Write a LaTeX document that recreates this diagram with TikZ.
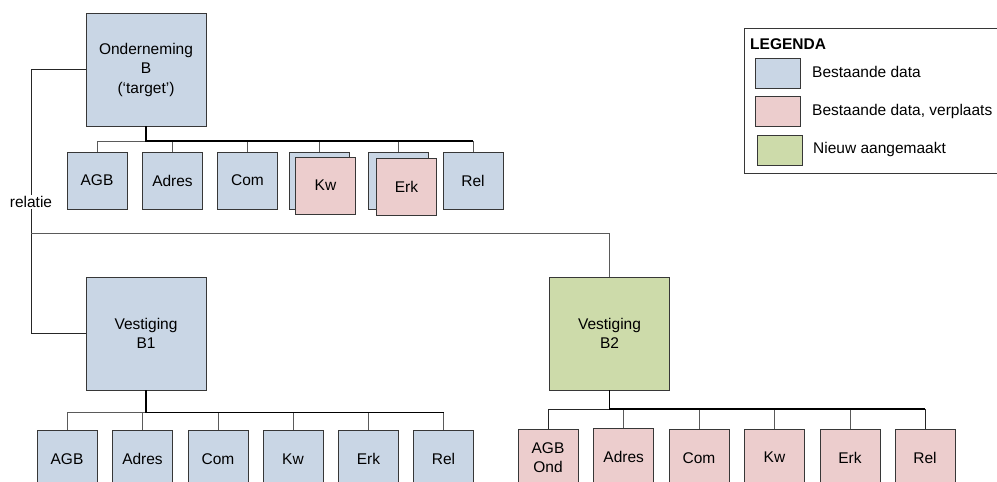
\documentclass[tikz,border=0pt]{standalone}
\usepackage{fontspec}
\setmainfont{Liberation Sans}
\definecolor{blueF}{RGB}{201,214,229}
\definecolor{pinkF}{RGB}{236,205,205}
\definecolor{greenF}{RGB}{205,219,170}
\definecolor{edge}{RGB}{55,55,55}
\definecolor{thinc}{RGB}{90,90,90}
\tikzset{
  base/.style={draw=edge, line width=0.9pt, inner sep=0pt, align=center,
    font=\fontsize{15.5}{19.5}\selectfont},
  bigbox/.style={base, minimum width=120pt, minimum height=113pt},
  smallbox/.style={base, minimum width=60pt, minimum height=57pt},
  blueb/.style={fill=blueF},
  pinkb/.style={fill=pinkF},
  greenb/.style={fill=greenF},
  swatch/.style={draw=edge, line width=0.9pt, minimum width=45pt, minimum height=30pt, inner sep=0pt},
  thinline/.style={draw=thinc, line width=0.8pt},
  thickline/.style={draw=black, line width=1.6pt},
  medline/.style={draw=black, line width=1.2pt},
  relline/.style={draw=black!85, line width=0.9pt},
  lbl/.style={font=\fontsize{15.5}{19.5}\selectfont, inner sep=1pt}
}
\begin{document}
\begin{tikzpicture}[x=1pt,y=-1pt]
\useasboundingbox (0,0) rectangle (997,482);
\fill[white] (0,0) rectangle (997,482);
\begin{scope}
\clip (0,0) rectangle (997,482);
% helper coordinates
\coordinate (rc) at (31,0);
\coordinate (hl) at (0,233);
\coordinate (busT) at (0,141);
\coordinate (bus1) at (0,412.5);
\coordinate (bus2) at (0,409);

% main nodes
\node[bigbox, blueb] (OB) at (146,69.5) {Onderneming\\B\\(‘target’)};
\node[bigbox, blueb] (B1) at (146,333.5) {Vestiging\\B1};
\node[bigbox, greenb] (B2) at (609.5,333.5) {Vestiging\\B2};

% top children
\node[smallbox, blueb] (tAGB) at (97,180.5) {AGB};
\node[smallbox, blueb] (tAdres) at (172.5,180.5) {Adres};
\node[smallbox, blueb] (tCom) at (247.5,180.5) {Com};
\node[smallbox, blueb] (tKwB) at (319.5,180.5) {};
\node[smallbox, pinkb] (tKw) at (325.5,185.5) {Kw};
\node[smallbox, blueb] (tErkB) at (398.5,180.5) {};
\node[smallbox, pinkb] (tErk) at (406.5,187) {Erk};
\node[smallbox, blueb] (tRel) at (473,180.5) {Rel};

% B1 children
\node[smallbox, blueb, anchor=north] (aAGB) at (67,430) {AGB};
\node[smallbox, blueb, anchor=north] (aAdres) at (142.5,430) {Adres};
\node[smallbox, blueb, anchor=north] (aCom) at (218,430) {Com};
\node[smallbox, blueb, anchor=north] (aKw) at (293,430) {Kw};
\node[smallbox, blueb, anchor=north] (aErk) at (368.5,430) {Erk};
\node[smallbox, blueb, anchor=north] (aRel) at (443.5,430) {Rel};

% B2 children
\node[smallbox, pinkb, anchor=north] (bAGB) at (548,428.5) {AGB\\Ond};
\node[smallbox, pinkb, anchor=north] (bAdres) at (623.7,428) {Adres};
\node[smallbox, pinkb, anchor=north] (bCom) at (699,429) {Com};
\node[smallbox, pinkb, anchor=north] (bKw) at (774.5,428.5) {Kw};
\node[smallbox, pinkb, anchor=north] (bErk) at (850,429) {Erk};
\node[smallbox, pinkb, anchor=north] (bRel) at (925,429) {Rel};

% top bus
\draw[thinline] (tAGB.north) |- (tRel.north |- busT) -- (tRel.north);
\foreach \n in {tAdres,tCom,tKwB,tErkB} \draw[thinline] (\n.north) -- (\n.north |- busT);
\draw[thickline] (OB.south) |- (tRel.north |- busT);

% B1 bus
\draw[thinline] (aAGB.north) |- (aRel.north |- bus1) -- (aRel.north);
\foreach \n in {aAdres,aCom,aKw,aErk} \draw[thinline] (\n.north) -- (\n.north |- bus1);
\draw[thickline] (B1.south) |- (aRel.north |- bus1);

% B2 bus
\draw[relline] (bAGB.north) |- (bRel.north |- bus2) -- (bRel.north);
\foreach \n in {bAdres,bCom,bKw,bErk} \draw[thinline] (\n.north) -- (\n.north |- bus2);
\draw[medline] (B2.south) |- (bRel.north |- bus2);

% relatie connectors
\draw[relline] (OB.west) -| (rc |- B1.west) -- (B1.west);
\draw[thinline] (rc |- hl) -| (B2.north);
\node[lbl, fill=white] (rlab) at (31,202) {relatie};

% legend
\draw[draw=edge, line width=0.9pt] (744,28) rectangle (1010,173);
\node[anchor=west, font=\bfseries\fontsize{15.5}{18}\selectfont, inner sep=0pt] (lt) at (750,44) {LEGENDA};
\node[swatch, blueb] (s1) at (777.5,73) {};
\node[swatch, pinkb] (s2) at (777.5,111) {};
\node[swatch, greenb] (s3) at (779.5,150.5) {};
\node[lbl, anchor=west, inner sep=0pt] (l1) at (812,72) {Bestaande data};
\node[lbl, anchor=west, inner sep=0pt] (l2) at (812,111) {Bestaande data, verplaats};
\node[lbl, anchor=west, inner sep=0pt] (l3) at (813,149) {Nieuw aangemaakt};
\end{scope}
\end{tikzpicture}
\end{document}
